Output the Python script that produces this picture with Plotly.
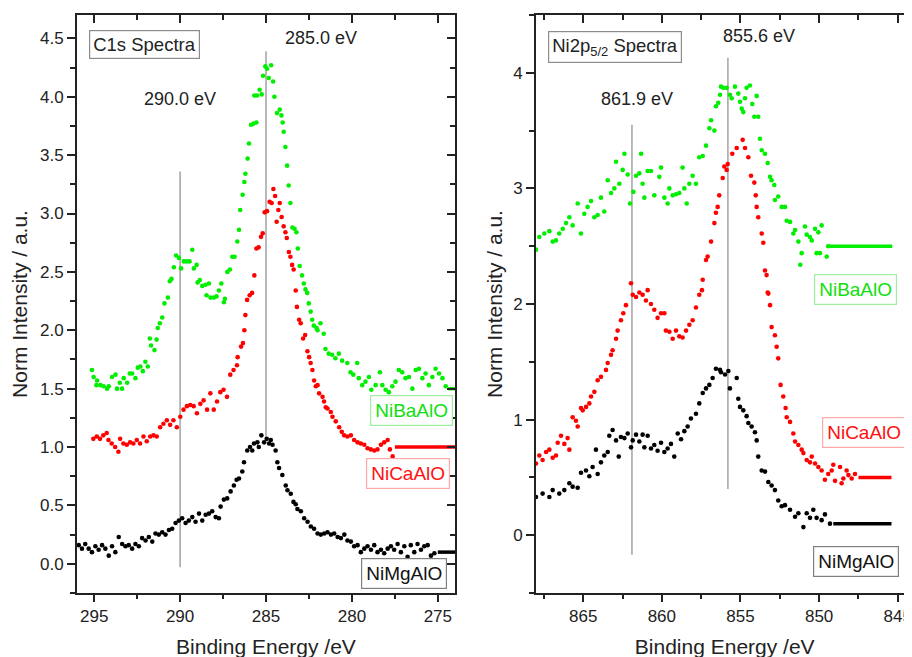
import plotly.graph_objects as go

# ---------------- C1s data (left panel) ----------------
c1s_ba_e = [295.13, 295.03, 294.87, 294.83, 294.64, 294.45, 294.25, 294.15, 293.96, 293.76, 293.67, 293.51,
            293.38, 293.28, 293.08, 292.93, 292.79, 292.60, 292.46, 292.31, 292.17, 292.02, 291.88, 291.76,
            291.69, 291.49, 291.37, 291.30, 291.18, 291.04, 290.91, 290.71, 290.60, 290.50, 290.36, 290.23,
            290.07, 289.94, 289.78, 289.62, 289.45, 289.29, 289.20, 289.04, 288.98, 288.85, 288.71, 288.52,
            288.46, 288.32, 288.23, 288.03, 287.88, 287.74, 287.60, 287.45, 287.39, 287.25, 287.10, 286.96,
            286.83, 286.67, 286.57, 286.50, 286.36, 286.26, 286.20, 286.07, 285.99, 285.87, 285.72, 285.56,
            285.68, 285.52, 285.37, 285.25, 285.17, 285.04, 284.94, 284.84, 284.70, 284.59, 284.51, 284.36,
            284.20, 284.10, 284.03, 283.97, 283.87, 283.77, 283.68, 283.58, 283.46, 283.34, 283.23, 283.15,
            283.04, 282.90, 282.80, 282.70, 282.60, 282.51, 282.40, 282.31, 282.22, 282.06, 282.00, 281.83,
            281.64, 281.54, 281.35, 281.15, 280.96, 280.76, 280.57, 280.27, 280.08, 279.92, 279.69, 279.60,
            279.40, 279.21, 279.01, 278.87, 278.62, 278.37, 278.23, 278.04, 277.85, 277.65, 277.46, 277.27,
            277.07, 276.88, 276.68, 276.48, 276.29, 276.10, 275.90, 275.71, 275.52, 275.32, 275.13, 274.93,
            274.73, 274.54]
c1s_ba_i = [1.66, 1.60, 1.53, 1.57, 1.53, 1.52, 1.50, 1.52, 1.60, 1.62, 1.50, 1.55,
            1.50, 1.59, 1.55, 1.63, 1.63, 1.59, 1.68, 1.69, 1.65, 1.73, 1.69, 1.93,
            1.87, 1.83, 1.92, 2.02, 2.06, 2.11, 2.23, 2.28, 2.42, 2.44, 2.54, 2.64,
            2.62, 2.53, 2.59, 2.59, 2.59, 2.69, 2.53, 2.56, 2.41, 2.43, 2.38, 2.39,
            2.30, 2.40, 2.28, 2.28, 2.29, 2.34, 2.40, 2.24, 2.27, 2.50, 2.52, 2.63,
            2.63, 2.76, 2.86, 3.03, 3.16, 3.27, 3.34, 3.47, 3.60, 3.76, 3.77, 3.78,
            4.01, 4.01, 4.06, 4.02, 4.18, 4.26, 4.24, 4.16, 4.27, 4.13, 4.00, 3.86,
            3.89, 3.84, 3.78, 3.70, 3.57, 3.41, 3.24, 3.09, 2.88, 2.87, 2.84, 2.70,
            2.55, 2.47, 2.40, 2.35, 2.32, 2.23, 2.16, 2.09, 2.04, 2.02, 2.00, 2.06,
            1.97, 1.84, 1.80, 1.79, 1.76, 1.80, 1.74, 1.72, 1.64, 1.62, 1.72, 1.59,
            1.53, 1.56, 1.60, 1.49, 1.53, 1.64, 1.53, 1.49, 1.47, 1.52, 1.56, 1.66,
            1.64, 1.59, 1.60, 1.50, 1.66, 1.67, 1.59, 1.63, 1.53, 1.60, 1.67, 1.63,
            1.59, 1.52]
c1s_ba_tail_e = [274.4, 274.0]
c1s_ba_tail_i = [1.50, 1.50]

c1s_ca_e = [295.05, 294.85, 294.66, 294.47, 294.27, 294.17, 293.98, 293.78, 293.59, 293.49, 293.30, 293.10,
            292.91, 292.72, 292.52, 292.33, 292.13, 291.94, 291.74, 291.55, 291.36, 291.16, 290.97, 290.77,
            290.58, 290.39, 290.19, 289.99, 289.80, 289.60, 289.41, 289.21, 289.02, 288.82, 288.63, 288.43,
            288.24, 288.04, 287.85, 287.66, 287.47, 287.27, 287.08, 286.89, 286.69, 286.65, 286.45, 286.34,
            286.26, 286.20, 286.10, 285.95, 285.81, 285.68, 285.56, 285.43, 285.29, 285.19, 285.08, 284.94,
            284.79, 284.67, 284.57, 284.47, 284.38, 284.28, 284.20, 284.09, 283.97, 283.87, 283.79, 283.67,
            283.58, 283.48, 283.39, 283.27, 283.20, 283.07, 282.98, 282.84, 282.72, 282.59, 282.49, 282.40,
            282.30, 282.20, 282.10, 282.00, 281.91, 281.71, 281.62, 281.52, 281.42, 281.23, 281.13, 280.94,
            280.74, 280.59, 280.45, 280.26, 280.06, 279.87, 279.67, 279.48, 279.28, 279.09, 278.90, 278.70,
            278.51, 278.31, 278.12, 277.92, 277.79, 277.63]
c1s_ca_i = [1.07, 1.09, 1.07, 1.10, 1.12, 1.06, 1.03, 1.00, 0.96, 1.07, 1.03, 1.02,
            1.04, 1.03, 1.06, 1.03, 1.09, 1.05, 1.09, 1.10, 1.09, 1.17, 1.20, 1.23,
            1.19, 1.23, 1.17, 1.26, 1.32, 1.35, 1.36, 1.35, 1.29, 1.37, 1.40, 1.32,
            1.46, 1.32, 1.39, 1.47, 1.49, 1.43, 1.62, 1.66, 1.70, 1.77, 1.86, 1.89,
            2.00, 2.13, 2.26, 2.30, 2.32, 2.47, 2.70, 2.71, 2.80, 2.83, 3.01, 3.02,
            3.10, 3.09, 3.21, 3.15, 2.93, 3.03, 3.09, 2.97, 2.89, 2.84, 2.79, 2.67,
            2.63, 2.56, 2.52, 2.34, 2.20, 2.09, 2.06, 1.93, 1.96, 1.82, 1.77, 1.72,
            1.66, 1.57, 1.52, 1.53, 1.46, 1.43, 1.39, 1.34, 1.33, 1.30, 1.26, 1.22,
            1.17, 1.13, 1.10, 1.09, 1.10, 1.06, 1.04, 1.03, 1.02, 0.99, 0.98, 0.97,
            0.98, 1.02, 1.04, 1.06, 0.98, 0.92]
c1s_ca_tail_e = [277.5, 274.0]
c1s_ca_tail_i = [1.00, 1.00]

c1s_mg_e = [295.90, 295.71, 295.52, 295.32, 295.13, 294.93, 294.74, 294.54, 294.35, 294.15, 293.96, 293.77,
            293.57, 293.37, 293.18, 292.99, 292.79, 292.60, 292.40, 292.21, 292.01, 291.82, 291.62, 291.43,
            291.24, 291.04, 290.85, 290.65, 290.46, 290.26, 290.07, 289.88, 289.68, 289.49, 289.29, 289.10,
            288.90, 288.71, 288.51, 288.32, 288.13, 287.93, 287.74, 287.64, 287.45, 287.26, 287.06, 286.87,
            286.71, 286.57, 286.38, 286.28, 286.09, 285.93, 285.80, 285.70, 285.50, 285.42, 285.27, 285.11,
            284.96, 284.82, 284.72, 284.62, 284.44, 284.34, 284.24, 284.05, 283.85, 283.75, 283.56, 283.40,
            283.27, 283.17, 282.97, 282.78, 282.58, 282.39, 282.20, 282.00, 281.81, 281.61, 281.42, 281.22,
            281.03, 280.83, 280.64, 280.44, 280.26, 280.06, 279.87, 279.67, 279.48, 279.28, 279.09, 278.89,
            278.70, 278.51, 278.31, 278.12, 277.92, 277.73, 277.54, 277.34, 277.15, 276.95, 276.76, 276.57,
            276.37, 276.18, 275.98, 275.79, 275.59, 275.40, 275.20]
c1s_mg_i = [0.16, 0.13, 0.17, 0.13, 0.10, 0.15, 0.12, 0.16, 0.13, 0.07, 0.15, 0.10,
            0.23, 0.17, 0.15, 0.16, 0.13, 0.17, 0.15, 0.22, 0.20, 0.23, 0.19, 0.26,
            0.25, 0.27, 0.25, 0.29, 0.30, 0.35, 0.37, 0.39, 0.35, 0.37, 0.40, 0.36,
            0.43, 0.37, 0.42, 0.43, 0.45, 0.40, 0.39, 0.49, 0.55, 0.56, 0.62, 0.67,
            0.72, 0.73, 0.79, 0.87, 0.97, 1.00, 0.97, 1.03, 1.04, 1.00, 1.10, 1.04,
            1.07, 1.03, 1.06, 1.02, 0.97, 0.87, 0.82, 0.76, 0.67, 0.63, 0.60, 0.53,
            0.51, 0.47, 0.45, 0.39, 0.36, 0.32, 0.30, 0.26, 0.25, 0.26, 0.27, 0.25,
            0.26, 0.23, 0.22, 0.25, 0.20, 0.19, 0.15, 0.16, 0.10, 0.13, 0.15, 0.12,
            0.16, 0.10, 0.12, 0.09, 0.13, 0.15, 0.12, 0.17, 0.10, 0.15, 0.06, 0.16,
            0.10, 0.17, 0.12, 0.15, 0.16, 0.07, 0.09]
c1s_mg_tail_e = [275.0, 274.0]
c1s_mg_tail_i = [0.10, 0.10]

c1s_ref_e = [290.0, 285.0]
c1s_ref_lo = [-0.03, 1.09]
c1s_ref_hi = [3.36, 4.39]

# ---------------- Ni2p data (right panel) ----------------
ni_ba_e = [868.00, 867.79, 867.47, 867.15, 866.94, 866.73, 866.52, 866.30, 866.09, 865.88, 865.67, 865.35,
           865.14, 864.93, 864.72, 864.50, 864.29, 864.08, 863.87, 863.66, 863.44, 863.23, 863.02, 862.91,
           862.70, 862.49, 862.38, 862.17, 862.02, 861.81, 861.64, 861.43, 861.32, 861.22, 861.11, 860.90,
           860.69, 860.48, 860.16, 860.05, 859.84, 859.63, 859.52, 859.31, 859.10, 858.89, 858.68, 858.57,
           858.42, 858.25, 858.04, 857.83, 857.62, 857.40, 857.19, 856.98, 856.87, 856.66, 856.56, 856.41,
           856.30, 856.24, 856.09, 855.88, 855.67, 855.56, 855.35, 855.14, 855.03, 854.92, 854.82, 854.71,
           854.61, 854.40, 854.25, 854.12, 853.97, 853.87, 853.76, 853.65, 853.44, 853.27, 853.12, 853.02,
           852.85, 852.81, 852.60, 852.38, 852.17, 852.06, 851.85, 851.64, 851.53, 851.32, 851.11, 851.20,
           850.90, 850.79, 850.58, 850.47, 850.26, 850.05, 849.84, 850.16, 849.95, 849.52, 849.42]
ni_ba_i = [2.47, 2.58, 2.61, 2.63, 2.54, 2.55, 2.61, 2.65, 2.70, 2.75, 2.68, 2.87,
           2.61, 2.78, 2.84, 2.89, 2.75, 2.77, 2.92, 2.80, 3.07, 2.96, 3.00, 3.23,
           3.04, 3.16, 3.30, 3.12, 2.87, 2.97, 3.11, 3.13, 3.30, 3.04, 2.92, 3.15,
           3.15, 2.94, 3.10, 3.18, 2.92, 2.87, 3.00, 2.94, 2.95, 2.96, 3.18, 3.00,
           2.87, 3.04, 3.11, 3.04, 3.27, 3.28, 3.37, 3.52, 3.59, 3.50, 3.71, 3.74,
           3.81, 3.88, 3.87, 3.87, 3.81, 3.78, 3.88, 3.82, 3.75, 3.69, 3.66, 3.78,
           3.87, 3.89, 3.73, 3.62, 3.80, 3.62, 3.43, 3.33, 3.30, 3.22, 3.10, 3.07,
           3.03, 2.90, 2.93, 2.84, 2.84, 2.72, 2.71, 2.61, 2.64, 2.54, 2.44, 2.34,
           2.67, 2.60, 2.58, 2.55, 2.65, 2.62, 2.68, 2.44, 2.44, 2.41, 2.50]
ni_ba_tail_e = [849.4, 845.35]
ni_ba_tail_i = [2.50, 2.50]

ni_ca_e = [868.00, 867.79, 867.58, 867.36, 867.15, 866.94, 866.73, 866.62, 866.41, 866.20, 865.99, 865.88,
           865.67, 865.46, 865.35, 865.14, 865.03, 864.82, 864.61, 864.50, 864.29, 864.08, 863.87, 863.55,
           863.44, 863.23, 863.13, 862.91, 862.81, 862.60, 862.45, 862.28, 861.96, 861.85, 861.64, 861.43,
           861.22, 861.01, 860.90, 860.69, 860.48, 860.27, 860.05, 859.84, 859.74, 859.52, 859.31, 859.10,
           858.89, 858.68, 858.46, 858.25, 858.04, 857.83, 857.62, 857.40, 857.45, 857.19, 857.09, 856.87,
           856.66, 856.56, 856.45, 856.35, 856.13, 856.03, 855.88, 855.81, 855.52, 855.24, 854.86, 854.71,
           854.50, 854.33, 854.12, 854.03, 853.97, 853.87, 853.65, 853.55, 853.44, 853.34, 853.27, 853.23,
           853.12, 853.02, 852.81, 852.70, 852.60, 852.45, 852.28, 852.13, 852.06, 851.85, 851.64, 851.53,
           851.32, 851.11, 851.00, 850.79, 850.58, 850.47, 850.26, 850.05, 849.84, 849.63, 849.42, 849.20,
           849.10, 848.99, 848.67, 848.57, 848.46, 848.25, 848.14, 847.93, 847.72]
ni_ca_i = [0.62, 0.69, 0.65, 0.72, 0.74, 0.67, 0.69, 0.80, 0.86, 0.79, 0.84, 0.74,
           1.02, 0.99, 0.94, 1.10, 1.08, 1.11, 1.14, 1.20, 1.24, 1.34, 1.37, 1.43,
           1.49, 1.56, 1.60, 1.70, 1.77, 1.86, 1.92, 1.99, 2.18, 2.08, 2.06, 2.10,
           2.08, 2.03, 2.12, 2.00, 1.95, 1.88, 1.92, 1.92, 1.77, 1.76, 1.70, 1.77,
           1.72, 1.71, 1.77, 1.82, 1.86, 1.97, 2.08, 2.21, 2.12, 2.38, 2.41, 2.54,
           2.70, 2.79, 2.84, 2.94, 3.09, 3.19, 3.16, 3.21, 3.30, 3.35, 3.42, 3.35,
           3.27, 3.11, 3.05, 2.94, 2.84, 2.75, 2.61, 2.53, 2.29, 2.25, 2.10, 2.09,
           1.99, 1.80, 1.73, 1.63, 1.53, 1.30, 1.20, 1.10, 1.02, 0.98, 0.88, 0.81,
           0.78, 0.74, 0.71, 0.65, 0.63, 0.68, 0.62, 0.59, 0.56, 0.48, 0.53, 0.56,
           0.61, 0.47, 0.59, 0.45, 0.49, 0.56, 0.52, 0.49, 0.53]
ni_ca_tail_e = [847.5, 845.4]
ni_ca_tail_i = [0.50, 0.50]

ni_mg_e = [868.00, 867.58, 867.15, 866.94, 866.52, 866.20, 865.88, 865.67, 865.35, 865.14, 864.82, 864.61,
           864.40, 864.19, 864.08, 863.87, 863.66, 863.44, 863.34, 863.13, 862.91, 862.74, 862.60, 862.38,
           862.17, 861.96, 861.85, 861.64, 861.43, 861.22, 861.11, 860.90, 860.69, 860.48, 860.27, 860.05,
           859.84, 859.63, 859.42, 859.21, 858.99, 858.78, 858.57, 858.36, 858.15, 857.83, 857.62, 857.40,
           857.19, 856.98, 856.77, 856.56, 856.30, 856.24, 855.98, 855.77, 855.67, 855.24, 855.14, 855.03,
           854.82, 854.61, 854.50, 854.29, 854.08, 853.97, 853.87, 853.65, 853.44, 853.23, 853.02, 852.81,
           852.60, 852.38, 852.17, 851.85, 851.53, 851.32, 851.00, 850.79, 850.58, 850.37, 850.16, 849.84,
           849.63, 849.31]
ni_mg_i = [0.33, 0.36, 0.33, 0.39, 0.36, 0.39, 0.45, 0.42, 0.41, 0.54, 0.56, 0.51,
           0.59, 0.74, 0.53, 0.63, 0.69, 0.72, 0.86, 0.91, 0.82, 0.68, 0.85, 0.84,
           0.88, 0.76, 0.82, 0.87, 0.81, 0.87, 0.76, 0.86, 0.75, 0.78, 0.73, 0.80,
           0.72, 0.75, 0.79, 0.68, 0.88, 0.83, 0.90, 0.94, 1.01, 1.05, 1.14, 1.23,
           1.27, 1.30, 1.36, 1.44, 1.43, 1.41, 1.39, 1.42, 1.27, 1.36, 1.18, 1.11,
           1.08, 1.03, 0.97, 0.94, 0.89, 0.82, 0.68, 0.56, 0.55, 0.46, 0.43, 0.39,
           0.30, 0.25, 0.26, 0.22, 0.16, 0.19, 0.07, 0.19, 0.15, 0.22, 0.15, 0.13,
           0.18, 0.10]
ni_mg_tail_e = [849.1, 845.4]
ni_mg_tail_i = [0.10, 0.10]

ni_ref_e = [861.9, 855.8]
ni_ref_lo = [-0.17, 0.40]
ni_ref_hi = [3.55, 4.13]

# ---------------- styling ----------------
W, H = 912, 657
OFF = 8  # the page body margin shifts the figure by 8 px right and down
FONT = "Arial, 'Liberation Sans', sans-serif"
INK = "#222222"
GREEN, RED, BLACK = "#00ee00", "#ff0000", "#000000"
REFC = "#a8a8a8"


def px(x):
    return (x - OFF) / W


def py(y):
    return 1 - (y - OFF) / H


fig = go.Figure()


def add_series(e, i, color, xa, ya):
    fig.add_trace(go.Scatter(x=e, y=i, mode="markers", xaxis=xa, yaxis=ya,
                             marker=dict(color=color, size=4.6, line=dict(width=0)),
                             showlegend=False, hoverinfo="skip"))


def add_tail(e, i, color, xa, ya):
    fig.add_trace(go.Scatter(x=e, y=i, mode="lines", xaxis=xa, yaxis=ya,
                             line=dict(color=color, width=3.5),
                             showlegend=False, hoverinfo="skip"))


for k in range(len(c1s_ref_e)):
    fig.add_trace(go.Scatter(x=[c1s_ref_e[k], c1s_ref_e[k]], y=[c1s_ref_lo[k], c1s_ref_hi[k]],
                             mode="lines", line=dict(color=REFC, width=1.6), xaxis="x", yaxis="y",
                             showlegend=False, hoverinfo="skip"))
for k in range(len(ni_ref_e)):
    fig.add_trace(go.Scatter(x=[ni_ref_e[k], ni_ref_e[k]], y=[ni_ref_lo[k], ni_ref_hi[k]],
                             mode="lines", line=dict(color=REFC, width=1.6), xaxis="x2", yaxis="y2",
                             showlegend=False, hoverinfo="skip"))

add_series(c1s_mg_e, c1s_mg_i, BLACK, "x", "y")
add_tail(c1s_mg_tail_e, c1s_mg_tail_i, BLACK, "x", "y")
add_series(c1s_ca_e, c1s_ca_i, RED, "x", "y")
add_tail(c1s_ca_tail_e, c1s_ca_tail_i, RED, "x", "y")
add_series(c1s_ba_e, c1s_ba_i, GREEN, "x", "y")
add_tail(c1s_ba_tail_e, c1s_ba_tail_i, GREEN, "x", "y")

add_series(ni_mg_e, ni_mg_i, BLACK, "x2", "y2")
add_tail(ni_mg_tail_e, ni_mg_tail_i, BLACK, "x2", "y2")
add_series(ni_ca_e, ni_ca_i, RED, "x2", "y2")
add_tail(ni_ca_tail_e, ni_ca_tail_i, RED, "x2", "y2")
add_series(ni_ba_e, ni_ba_i, GREEN, "x2", "y2")
add_tail(ni_ba_tail_e, ni_ba_tail_i, GREEN, "x2", "y2")

# empty traces so that the mirror axes (top / right, ticks inside) get drawn
for xa, ya in [("x3", "y"), ("x", "y3"), ("x4", "y2"), ("x2", "y4")]:
    fig.add_trace(go.Scatter(x=[], y=[], xaxis=xa, yaxis=ya, showlegend=False, hoverinfo="skip"))

L_DOM = [px(77), px(455)]
R_DOM = [px(536), px(913.5)]
Y_DOM = [py(593), py(15)]
L_XR = [296, 274]
R_XR = [868, 844]
L_YR = [-0.25, 4.70]
R_YR = [-0.5, 4.5]

tickfont = dict(family=FONT, size=17, color=INK)
titlefont = dict(family=FONT, size=21, color=INK)

base = dict(showgrid=False, zeroline=False, showline=True, linewidth=2, linecolor=INK,
            tickwidth=2, tickcolor=INK, automargin=False)


def main_x(dom, rng, anchor, title):
    return dict(base, domain=dom, range=rng, anchor=anchor, ticks="outside", ticklen=7,
                tick0=0, dtick=5, tickfont=tickfont,
                minor=dict(ticks="outside", ticklen=4, tickwidth=1.5, tickcolor=INK, tick0=0, dtick=2.5),
                title=dict(text=title, font=titlefont, standoff=14))


def main_y(dom, rng, anchor, dtick, mdtick, fmt, title, standoff):
    return dict(base, domain=dom, range=rng, anchor=anchor, ticks="outside", ticklen=8,
                tick0=0, dtick=dtick, tickformat=fmt, tickfont=tickfont,
                minor=dict(ticks="outside", ticklen=5, tickwidth=1.5, tickcolor=INK, tick0=0, dtick=mdtick),
                title=dict(text=title, font=titlefont, standoff=standoff))


def mirror_x(dom, rng, over, anchor):
    return dict(base, domain=dom, range=rng, overlaying=over, anchor=anchor, side="top",
                ticks="inside", ticklen=8, tick0=0, dtick=5, showticklabels=False,
                minor=dict(ticks="inside", ticklen=5, tickwidth=1.5, tickcolor=INK, tick0=0, dtick=2.5))


def mirror_y(dom, rng, over, anchor, dtick, mdtick):
    return dict(base, domain=dom, range=rng, overlaying=over, anchor=anchor, side="right",
                ticks="inside", ticklen=8, tick0=0, dtick=dtick, showticklabels=False,
                minor=dict(ticks="inside", ticklen=5, tickwidth=1.5, tickcolor=INK, tick0=0, dtick=mdtick))


fig.update_layout(
    width=W, height=H,
    margin=dict(l=0, r=0, t=0, b=0),
    paper_bgcolor="white", plot_bgcolor="white",
    font=dict(family=FONT, color=INK),
    showlegend=False,
    xaxis=main_x(L_DOM, L_XR, "y", "Binding Energy /eV"),
    yaxis=main_y(Y_DOM, L_YR, "x", 0.5, 0.25, ".1f", "Norm Intensity / a.u.", 7),
    xaxis2=main_x(R_DOM, R_XR, "y2", "Binding Energy /eV"),
    yaxis2=main_y(Y_DOM, R_YR, "x2", 1, 0.5, "d", "Norm Intensity / a.u.", 5),
    xaxis3=mirror_x(L_DOM, L_XR, "x", "y"),
    yaxis3=mirror_y(Y_DOM, L_YR, "y", "x", 0.5, 0.25),
    xaxis4=mirror_x(R_DOM, R_XR, "x2", "y2"),
    yaxis4=mirror_y(Y_DOM, R_YR, "y2", "x2", 1, 0.5),
)


def note(text, x, y, color=INK, border=None, size=18, pad=3):
    a = dict(text=text, x=px(x), y=py(y), xref="paper", yref="paper", showarrow=False,
             xanchor="center", yanchor="middle", font=dict(family=FONT, size=size, color=color))
    if border:
        a.update(bordercolor=border, borderwidth=1.2, borderpad=pad, bgcolor="white")
    fig.add_annotation(**a)


note("C1s Spectra", 144.5, 44.3, border="#8c8c8c", size=18.5)
note("285.0 eV", 321, 38)
note("290.0 eV", 179.5, 99)
note("NiBaAlO", 411.2, 410.3, color="#10e010", border="#a0eea0", size=19, pad=4)
note("NiCaAlO", 408, 473.3, color="#ff1010", border="#ffa8a8", size=19, pad=4)
note("NiMgAlO", 404.3, 573, color="#111111", border="#808080", size=19, pad=4)

note("Ni2p<sub>5/2</sub> Spectra", 614.7, 46.7, border="#8c8c8c", size=18.5)
note("855.6 eV", 758.8, 36)
note("861.9 eV", 637.3, 99)
note("NiBaAlO", 855.5, 289.5, color="#10e010", border="#a0eea0", size=19, pad=4)
note("NiCaAlO", 863.8, 432.8, color="#ff1010", border="#ffa8a8", size=19, pad=4)
note("NiMgAlO", 856.2, 561.3, color="#111111", border="#808080", size=19, pad=4)

fig.write_html("out.html")
